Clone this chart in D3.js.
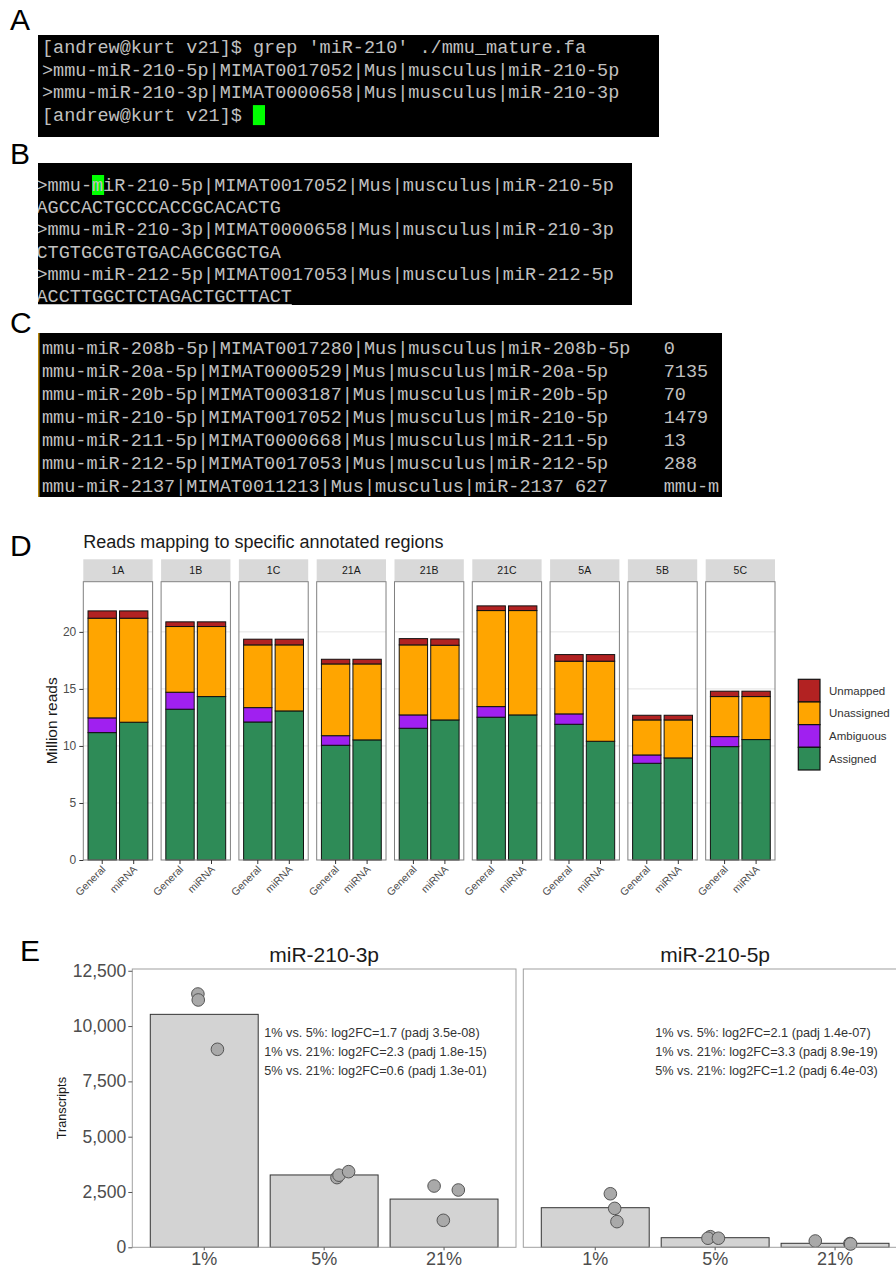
<!DOCTYPE html>
<html>
<head>
<meta charset="utf-8">
<script src="https://cdn.jsdelivr.net/npm/d3@7"></script>
<style>
  body { margin: 0; background: #fff; }
  svg { display: block; }
  text { font-family: "Liberation Sans", Arial, sans-serif; }
  .mono { font-family: "Liberation Mono", "DejaVu Sans Mono", monospace; white-space: pre; }
</style>
</head>
<body>
<svg id="fig" width="896" height="1268"></svg>
<script>
// ---- terminal screenshots (A, B, C) ----
const termA = [
  "[andrew@kurt v21]$ grep 'miR-210' ./mmu_mature.fa",
  ">mmu-miR-210-5p|MIMAT0017052|Mus|musculus|miR-210-5p",
  ">mmu-miR-210-3p|MIMAT0000658|Mus|musculus|miR-210-3p",
  "[andrew@kurt v21]$ "
];
const termB = [
  ">mmu-miR-210-5p|MIMAT0017052|Mus|musculus|miR-210-5p",
  "AGCCACTGCCCACCGCACACTG",
  ">mmu-miR-210-3p|MIMAT0000658|Mus|musculus|miR-210-3p",
  "CTGTGCGTGTGACAGCGGCTGA",
  ">mmu-miR-212-5p|MIMAT0017053|Mus|musculus|miR-212-5p",
  "ACCTTGGCTCTAGACTGCTTACT"
];
const termC = [
  "mmu-miR-208b-5p|MIMAT0017280|Mus|musculus|miR-208b-5p\t0",
  "mmu-miR-20a-5p|MIMAT0000529|Mus|musculus|miR-20a-5p\t7135",
  "mmu-miR-20b-5p|MIMAT0003187|Mus|musculus|miR-20b-5p\t70",
  "mmu-miR-210-5p|MIMAT0017052|Mus|musculus|miR-210-5p\t1479",
  "mmu-miR-211-5p|MIMAT0000668|Mus|musculus|miR-211-5p\t13",
  "mmu-miR-212-5p|MIMAT0017053|Mus|musculus|miR-212-5p\t288",
  "mmu-miR-2137|MIMAT0011213|Mus|musculus|miR-2137\t627\tmmu-m"
];

// ---- D: reads mapping (million reads) ----
const samples = ['1A', '1B', '1C', '21A', '21B', '21C', '5A', '5B', '5C'];
const methods = ['General', 'miRNA'];
const readCats = ['Assigned', 'Ambiguous', 'Unassigned', 'Unmapped'];
const readColors = ['#2e8b57', '#a020f0', '#ffa500', '#b22222'];
const assignedGeneral   = [11.17, 13.22, 12.10, 10.06, 11.55, 12.52, 11.90, 8.48, 9.94];
const ambiguousGeneral  = [1.29, 1.49, 1.26, 0.84, 1.17, 0.93, 0.91, 0.73, 0.88];
const unassignedGeneral = [8.74, 5.76, 5.50, 6.29, 6.14, 8.42, 4.62, 3.07, 3.51];
const assignedMirna     = [12.08, 14.33, 13.07, 10.53, 12.28, 12.72, 10.41, 8.95, 10.56];
const ambiguousMirna    = [0, 0, 0, 0, 0, 0, 0, 0, 0];
const unassignedMirna   = [9.12, 6.14, 5.79, 6.66, 6.55, 9.15, 7.02, 3.33, 3.77];
const unmapped          = [0.64, 0.41, 0.50, 0.41, 0.55, 0.41, 0.58, 0.41, 0.47];
const readTicks = [0, 5, 10, 15, 20];

// ---- E: transcripts ----
const mirNames = ['miR-210-3p', 'miR-210-5p'];
const conditions = ['1%', '5%', '21%'];
const mean3p = [10530, 3270, 2180];
const mean5p = [1790, 434, 181];
const reps3p = [[11450, 11180, 8950], [3150, 3260, 3420], [2770, 2590, 1220]];
const reps5p = [[2420, 1760, 1160], [480, 410, 410], [285, 170, 150]];
// horizontal jitter, as a fraction of one category step
const jitter3p = [[-0.053, -0.05, 0.11], [0.107, 0.124, 0.204], [-0.083, 0.119, -0.006]];
const jitter5p = [[0.126, 0.162, 0.181], [-0.04, -0.06, 0.027], [-0.165, 0.124, 0.13]];
const notes3p = [
  '1% vs. 5%: log2FC=1.7 (padj 3.5e-08)',
  '1% vs. 21%: log2FC=2.3 (padj 1.8e-15)',
  '5% vs. 21%: log2FC=0.6 (padj 1.3e-01)'
];
const notes5p = [
  '1% vs. 5%: log2FC=2.1 (padj 1.4e-07)',
  '1% vs. 21%: log2FC=3.3 (padj 8.9e-19)',
  '5% vs. 21%: log2FC=1.2 (padj 6.4e-03)'
];
const transcriptTicks = [0, 2500, 5000, 7500, 10000, 12500];

const svg = d3.select('#fig');
svg.append('rect').attr('width', 896).attr('height', 1268).attr('fill', '#fff');

// panel letters
[['A', 10, 30], ['B', 10, 164], ['C', 10, 333], ['D', 10, 556], ['E', 20, 961]].forEach(([t, x, y]) => {
  svg.append('text').attr('x', x).attr('y', y).attr('font-size', 30).attr('fill', '#000').text(t);
});

// ---- terminals ----
const charW = 11.1;
function expandTabs(s) {
  let out = '';
  for (const ch of s) {
    if (ch === '\t') { out += ' '.repeat(8 - (out.length % 8)); }
    else out += ch;
  }
  return out;
}

function terminal(id, lines, box, opts = {}) {
  const g = svg.append('g');
  g.append('clipPath').attr('id', id).append('rect')
    .attr('x', box.x).attr('y', box.y).attr('width', box.w).attr('height', box.h);
  g.append('rect').attr('x', box.x).attr('y', box.y).attr('width', box.w).attr('height', box.h).attr('fill', '#000');
  const inner = g.append('g').attr('clip-path', `url(#${id})`);
  const rowY = d3.scaleLinear().domain([0, 1]).range([box.first, box.first + box.lh]);
  if (opts.cursor) {
    inner.append('rect')
      .attr('x', box.tx + opts.cursor[1] * charW).attr('y', rowY(opts.cursor[0]) - 10)
      .attr('width', charW + 1).attr('height', 20).attr('fill', '#00ff00');
  }
  inner.selectAll('text.line').data(lines).join('text')
    .attr('class', 'mono line')
    .attr('x', box.tx).attr('y', (d, i) => rowY(i) + 6)
    .attr('font-size', 18.5).attr('fill', '#c0c0c0')
    .text(d => expandTabs(d));
  if (opts.underline) {
    const last = lines.length - 1;
    inner.append('line')
      .attr('x1', box.tx).attr('x2', box.tx + lines[last].length * charW)
      .attr('y1', rowY(last) + 8.5).attr('y2', rowY(last) + 8.5)
      .attr('stroke', '#c0c0c0').attr('stroke-width', 1);
  }
  if (opts.edge) {
    g.append('line').attr('x1', box.x + 0.75).attr('x2', box.x + 0.75)
      .attr('y1', box.y).attr('y2', box.y + box.h).attr('stroke', opts.edge).attr('stroke-width', 1.5);
  }
}

terminal('clipA', termA, { x: 38, y: 35, w: 621, h: 102, first: 47, lh: 22.7, tx: 42 }, { cursor: [3, 19] });
terminal('clipB', termB, { x: 38, y: 163, w: 594, h: 142, first: 185, lh: 22.2, tx: 36.5 }, { cursor: [0, 5], underline: true });
terminal('clipC', termC, { x: 38, y: 333, w: 684, h: 164, first: 348, lh: 23, tx: 42 }, { edge: '#b8860b' });

// ---- D: stacked bars faceted by sample ----
const rows = [];
samples.forEach((s, i) => {
  rows.push({ sample: s, method: 'General', Assigned: assignedGeneral[i], Ambiguous: ambiguousGeneral[i], Unassigned: unassignedGeneral[i], Unmapped: unmapped[i] });
  rows.push({ sample: s, method: 'miRNA', Assigned: assignedMirna[i], Ambiguous: ambiguousMirna[i], Unassigned: unassignedMirna[i], Unmapped: unmapped[i] });
});
const stacked = d3.stack().keys(readCats)(rows);
const color = d3.scaleOrdinal().domain(readCats).range(readColors);

const facetX = d3.scaleBand().domain(samples).range([83.3, 775]).paddingInner(0.109);
const barX = d3.scaleBand().domain(methods).range([0, facetX.bandwidth()]).paddingInner(0.1).paddingOuter(0.15);
const yD = d3.scaleLinear().domain([0, 24.4]).range([860, 581.7]);
const stripTop = 559.3;

const gD = svg.append('g');
gD.append('text').attr('x', 83.3).attr('y', 548).attr('font-size', 18).attr('fill', '#1a1a1a')
  .text('Reads mapping to specific annotated regions');

samples.forEach(s => {
  const x0 = facetX(s), w = facetX.bandwidth();
  const f = gD.append('g').attr('transform', `translate(${x0},0)`);
  f.append('rect').attr('x', 0).attr('y', stripTop).attr('width', w).attr('height', yD.range()[1] - stripTop).attr('fill', '#d9d9d9');
  f.append('text').attr('x', w / 2).attr('y', (stripTop + yD.range()[1]) / 2 + 3.8)
    .attr('text-anchor', 'middle').attr('font-size', 10.5).attr('fill', '#1a1a1a').text(s);
  f.append('rect').attr('x', 0).attr('y', yD.range()[1]).attr('width', w).attr('height', yD(0) - yD.range()[1]).attr('fill', '#fff');
  f.selectAll('line.grid').data(readTicks.slice(1)).join('line')
    .attr('x1', 0).attr('x2', w).attr('y1', d => yD(d)).attr('y2', d => yD(d))
    .attr('stroke', '#e3e3e3').attr('stroke-width', 1);
  stacked.forEach(layer => {
    f.selectAll(null).data(layer.filter(d => d.data.sample === s)).join('rect')
      .attr('x', d => barX(d.data.method)).attr('width', barX.bandwidth())
      .attr('y', d => yD(d[1])).attr('height', d => yD(d[0]) - yD(d[1]))
      .attr('fill', color(layer.key)).attr('stroke', '#111').attr('stroke-width', 1);
  });
  f.append('rect').attr('x', 0).attr('y', yD.range()[1]).attr('width', w).attr('height', yD(0) - yD.range()[1])
    .attr('fill', 'none').attr('stroke', '#808080').attr('stroke-width', 1);
  const ax = f.append('g').attr('transform', `translate(0,${yD(0)})`)
    .call(d3.axisBottom(barX).tickSize(4).tickPadding(3));
  ax.select('.domain').remove();
  ax.selectAll('line').attr('stroke', '#333');
  ax.selectAll('text')
    .attr('font-size', 10.5).attr('fill', '#4d4d4d').attr('text-anchor', 'end')
    .attr('dy', null).attr('y', 0)
    .attr('transform', 'translate(4,10) rotate(-45)');
});

const ayD = gD.append('g').attr('transform', `translate(${facetX.range()[0]},0)`)
  .call(d3.axisLeft(yD).tickValues(readTicks).tickSize(4).tickPadding(3));
ayD.select('.domain').remove();
ayD.selectAll('line').attr('stroke', '#333');
ayD.selectAll('text').attr('font-size', 12).attr('fill', '#4d4d4d');
gD.append('text').attr('transform', `translate(52,${(yD(0) + yD.range()[1]) / 2}) rotate(-90)`)
  .attr('text-anchor', 'middle').attr('dy', '0.35em').attr('font-size', 15.5).attr('fill', '#1a1a1a').text('Million reads');

// legend (top category first)
const legY = d3.scaleBand().domain(readCats.slice().reverse()).range([679.3, 770]);
const leg = gD.append('g');
leg.selectAll('rect').data(legY.domain()).join('rect')
  .attr('x', 798.3).attr('y', d => legY(d)).attr('width', 21.7).attr('height', legY.bandwidth())
  .attr('fill', d => color(d)).attr('stroke', '#111').attr('stroke-width', 1.2);
leg.selectAll('text').data(legY.domain()).join('text')
  .attr('x', 829).attr('y', d => legY(d) + legY.bandwidth() / 2).attr('dy', '0.35em')
  .attr('font-size', 11.5).attr('fill', '#333').text(d => d);

// ---- E: transcripts per condition ----
const facetE = d3.scaleBand().domain(mirNames).range([132.3, 907]).paddingInner(0.0187);
const xE = d3.scaleBand().domain(conditions).range([0, facetE.bandwidth()]).paddingInner(0.1).paddingOuter(0.15);
const yE = d3.scaleLinear().domain([0, 12580]).range([1247.3, 969]);
const gE = svg.append('g');
const eSets = [
  { name: mirNames[0], mean: mean3p, reps: reps3p, jit: jitter3p, notes: notes3p },
  { name: mirNames[1], mean: mean5p, reps: reps5p, jit: jitter5p, notes: notes5p }
];

eSets.forEach(set => {
  const x0 = facetE(set.name), w = facetE.bandwidth();
  const f = gE.append('g').attr('transform', `translate(${x0},0)`);
  f.append('text').attr('x', w / 2).attr('y', 962).attr('text-anchor', 'middle')
    .attr('font-size', 21).attr('fill', '#1a1a1a').text(set.name);
  f.selectAll('rect.bar').data(conditions).join('rect')
    .attr('x', c => xE(c)).attr('width', xE.bandwidth())
    .attr('y', (c, i) => yE(set.mean[i])).attr('height', (c, i) => yE(0) - yE(set.mean[i]))
    .attr('fill', '#d3d3d3').attr('stroke', '#333').attr('stroke-width', 1);
  const pts = [];
  conditions.forEach((c, i) => set.reps[i].forEach((v, j) => pts.push({ c, v, j: set.jit[i][j] })));
  f.selectAll('circle').data(pts).join('circle')
    .attr('cx', d => xE(d.c) + xE.bandwidth() / 2 + d.j * xE.step())
    .attr('cy', d => yE(d.v)).attr('r', 6.3)
    .attr('fill', '#a9a9a9').attr('stroke', '#555').attr('stroke-width', 1);
  // annotation anchored half a step right of the first category centre
  const nx = xE(conditions[0]) + xE.bandwidth() / 2 + xE.step() * 0.5;
  f.selectAll('text.note').data(set.notes).join('text')
    .attr('x', nx).attr('y', (d, i) => yE(9700) + i * 19).attr('dy', '0.35em')
    .attr('font-size', 12.7).attr('fill', '#333').text(d => d);
  f.append('rect').attr('x', 0).attr('y', yE.range()[1]).attr('width', w).attr('height', yE(0) - yE.range()[1])
    .attr('fill', 'none').attr('stroke', '#a0a0a0').attr('stroke-width', 1);
  const ax = f.append('g').attr('transform', `translate(0,${yE(0)})`)
    .call(d3.axisBottom(xE).tickSize(3).tickPadding(2));
  ax.select('.domain').remove();
  ax.selectAll('line').attr('stroke', '#555');
  ax.selectAll('text').attr('font-size', 18).attr('fill', '#4d4d4d');
});

const ayE = gE.append('g').attr('transform', `translate(${facetE.range()[0]},0)`)
  .call(d3.axisLeft(yE).tickValues(transcriptTicks).tickFormat(d3.format(',')).tickSize(4).tickPadding(2));
ayE.select('.domain').remove();
ayE.selectAll('line').attr('stroke', '#555');
ayE.selectAll('text').attr('font-size', 17.5).attr('fill', '#4d4d4d');
gE.append('text').attr('transform', `translate(62,${(yE(0) + yE.range()[1]) / 2}) rotate(-90)`)
  .attr('text-anchor', 'middle').attr('dy', '0.35em').attr('font-size', 12.7).attr('fill', '#1a1a1a').text('Transcripts');
</script>
</body>
</html>
